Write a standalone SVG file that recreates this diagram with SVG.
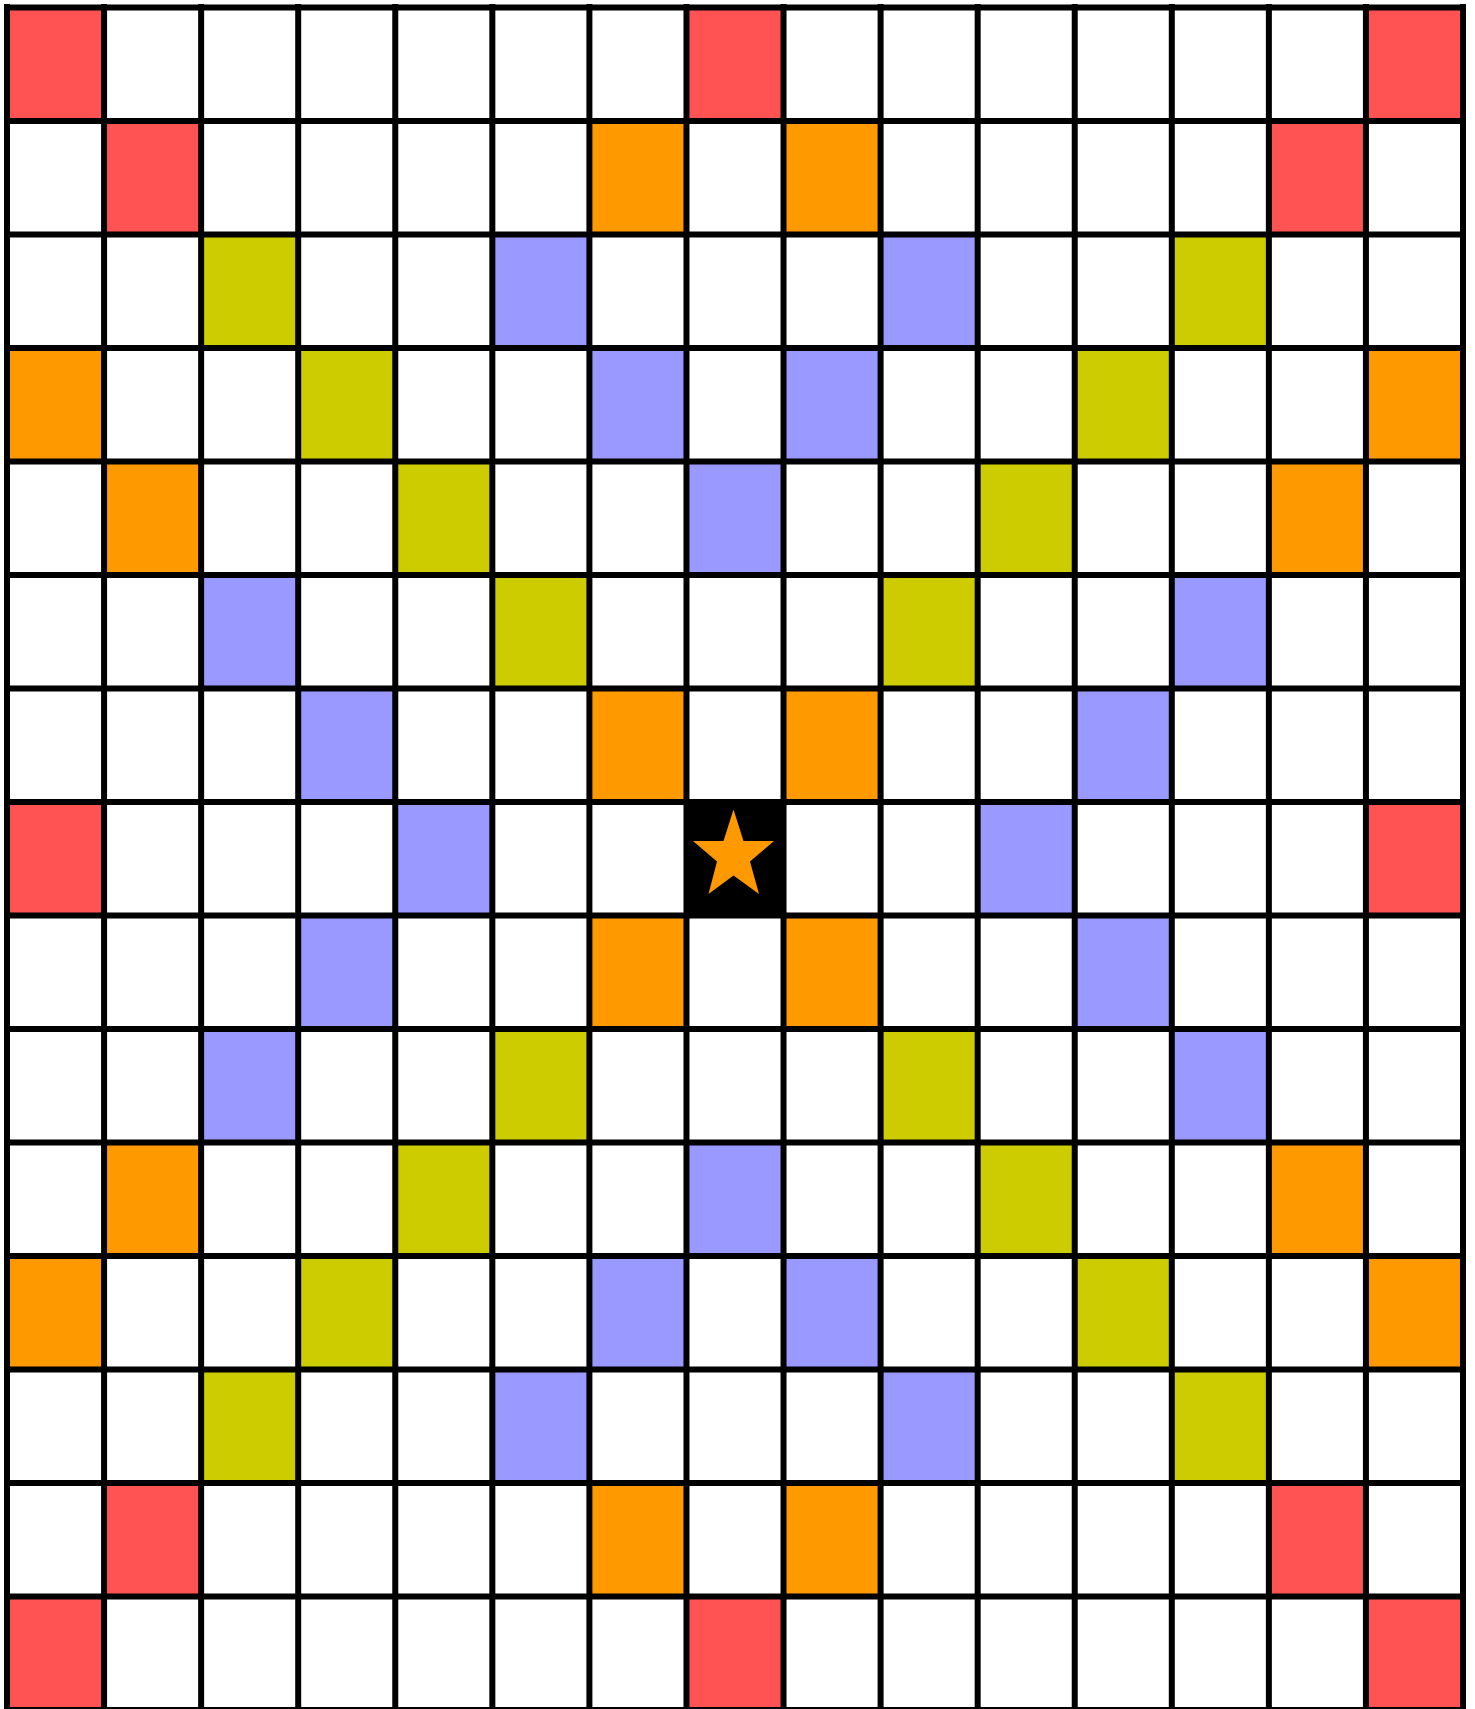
<svg xmlns="http://www.w3.org/2000/svg" width="1475" height="1709" viewBox="0 0 1475 1709">
<style>
.r{fill:#FF5252}.o{fill:#FF9900}.y{fill:#CCCC00}.b{fill:#9999FF}.k{fill:#000000}
.grid{stroke:#000;stroke-width:6;fill:none}
</style>
<rect x="0" y="0" width="1475" height="1709" fill="#FFFFFF"/>
<g id="cells">
<!-- row 0 -->
<rect class="r" x="7" y="7.5" width="97.07" height="113.5"/>
<rect class="r" x="686.47" y="7.5" width="97.07" height="113.5"/>
<rect class="r" x="1365.93" y="7.5" width="97.07" height="113.5"/>
<!-- row 1 -->
<rect class="r" x="104.07" y="121" width="97.07" height="113.5"/>
<rect class="o" x="589.4" y="121" width="97.07" height="113.5"/>
<rect class="o" x="783.53" y="121" width="97.07" height="113.5"/>
<rect class="r" x="1268.87" y="121" width="97.07" height="113.5"/>
<!-- row 2 -->
<rect class="y" x="201.13" y="234.5" width="97.07" height="113.5"/>
<rect class="b" x="492.33" y="234.5" width="97.07" height="113.5"/>
<rect class="b" x="880.6" y="234.5" width="97.07" height="113.5"/>
<rect class="y" x="1171.8" y="234.5" width="97.07" height="113.5"/>
<!-- row 3 -->
<rect class="o" x="7" y="348" width="97.07" height="113.5"/>
<rect class="y" x="298.2" y="348" width="97.07" height="113.5"/>
<rect class="b" x="589.4" y="348" width="97.07" height="113.5"/>
<rect class="b" x="783.53" y="348" width="97.07" height="113.5"/>
<rect class="y" x="1074.73" y="348" width="97.07" height="113.5"/>
<rect class="o" x="1365.93" y="348" width="97.07" height="113.5"/>
<!-- row 4 -->
<rect class="o" x="104.07" y="461.5" width="97.07" height="113.5"/>
<rect class="y" x="395.27" y="461.5" width="97.07" height="113.5"/>
<rect class="b" x="686.47" y="461.5" width="97.07" height="113.5"/>
<rect class="y" x="977.67" y="461.5" width="97.07" height="113.5"/>
<rect class="o" x="1268.87" y="461.5" width="97.07" height="113.5"/>
<!-- row 5 -->
<rect class="b" x="201.13" y="575" width="97.07" height="113.5"/>
<rect class="y" x="492.33" y="575" width="97.07" height="113.5"/>
<rect class="y" x="880.6" y="575" width="97.07" height="113.5"/>
<rect class="b" x="1171.8" y="575" width="97.07" height="113.5"/>
<!-- row 6 -->
<rect class="b" x="298.2" y="688.5" width="97.07" height="113.5"/>
<rect class="o" x="589.4" y="688.5" width="97.07" height="113.5"/>
<rect class="o" x="783.53" y="688.5" width="97.07" height="113.5"/>
<rect class="b" x="1074.73" y="688.5" width="97.07" height="113.5"/>
<!-- row 7 -->
<rect class="r" x="7" y="802" width="97.07" height="113.5"/>
<rect class="b" x="395.27" y="802" width="97.07" height="113.5"/>
<rect class="k" x="686.47" y="802" width="97.07" height="113.5"/>
<rect class="b" x="977.67" y="802" width="97.07" height="113.5"/>
<rect class="r" x="1365.93" y="802" width="97.07" height="113.5"/>
<!-- row 8 -->
<rect class="b" x="298.2" y="915.5" width="97.07" height="113.5"/>
<rect class="o" x="589.4" y="915.5" width="97.07" height="113.5"/>
<rect class="o" x="783.53" y="915.5" width="97.07" height="113.5"/>
<rect class="b" x="1074.73" y="915.5" width="97.07" height="113.5"/>
<!-- row 9 -->
<rect class="b" x="201.13" y="1029" width="97.07" height="113.5"/>
<rect class="y" x="492.33" y="1029" width="97.07" height="113.5"/>
<rect class="y" x="880.6" y="1029" width="97.07" height="113.5"/>
<rect class="b" x="1171.8" y="1029" width="97.07" height="113.5"/>
<!-- row 10 -->
<rect class="o" x="104.07" y="1142.5" width="97.07" height="113.5"/>
<rect class="y" x="395.27" y="1142.5" width="97.07" height="113.5"/>
<rect class="b" x="686.47" y="1142.5" width="97.07" height="113.5"/>
<rect class="y" x="977.67" y="1142.5" width="97.07" height="113.5"/>
<rect class="o" x="1268.87" y="1142.5" width="97.07" height="113.5"/>
<!-- row 11 -->
<rect class="o" x="7" y="1256" width="97.07" height="113.5"/>
<rect class="y" x="298.2" y="1256" width="97.07" height="113.5"/>
<rect class="b" x="589.4" y="1256" width="97.07" height="113.5"/>
<rect class="b" x="783.53" y="1256" width="97.07" height="113.5"/>
<rect class="y" x="1074.73" y="1256" width="97.07" height="113.5"/>
<rect class="o" x="1365.93" y="1256" width="97.07" height="113.5"/>
<!-- row 12 -->
<rect class="y" x="201.13" y="1369.5" width="97.07" height="113.5"/>
<rect class="b" x="492.33" y="1369.5" width="97.07" height="113.5"/>
<rect class="b" x="880.6" y="1369.5" width="97.07" height="113.5"/>
<rect class="y" x="1171.8" y="1369.5" width="97.07" height="113.5"/>
<!-- row 13 -->
<rect class="r" x="104.07" y="1483" width="97.07" height="113.5"/>
<rect class="o" x="589.4" y="1483" width="97.07" height="113.5"/>
<rect class="o" x="783.53" y="1483" width="97.07" height="113.5"/>
<rect class="r" x="1268.87" y="1483" width="97.07" height="113.5"/>
<!-- row 14 -->
<rect class="r" x="7" y="1596.5" width="97.07" height="113.5"/>
<rect class="r" x="686.47" y="1596.5" width="97.07" height="113.5"/>
<rect class="r" x="1365.93" y="1596.5" width="97.07" height="113.5"/>
</g>
<g id="grid">
<path class="grid" d="M7 4V1712M104.07 4V1712M201.13 4V1712M298.2 4V1712M395.27 4V1712M492.33 4V1712M589.4 4V1712M686.47 4V1712M783.53 4V1712M880.6 4V1712M977.67 4V1712M1074.73 4V1712M1171.8 4V1712M1268.87 4V1712M1365.93 4V1712M1463 4V1712"/>
<path class="grid" d="M4 7.5H1466M4 121H1466M4 234.5H1466M4 348H1466M4 461.5H1466M4 575H1466M4 688.5H1466M4 802H1466M4 915.5H1466M4 1029H1466M4 1142.5H1466M4 1256H1466M4 1369.5H1466M4 1483H1466M4 1596.5H1466M4 1710H1466"/>
</g>
<g id="star">
<polygon fill="#FF9900" points="733.5,809.5 743.5,841 774,841 750,861.5 759,894 733.5,875.5 708.5,894 717,861.5 693,841 723.5,841"/>
</g>
</svg>
